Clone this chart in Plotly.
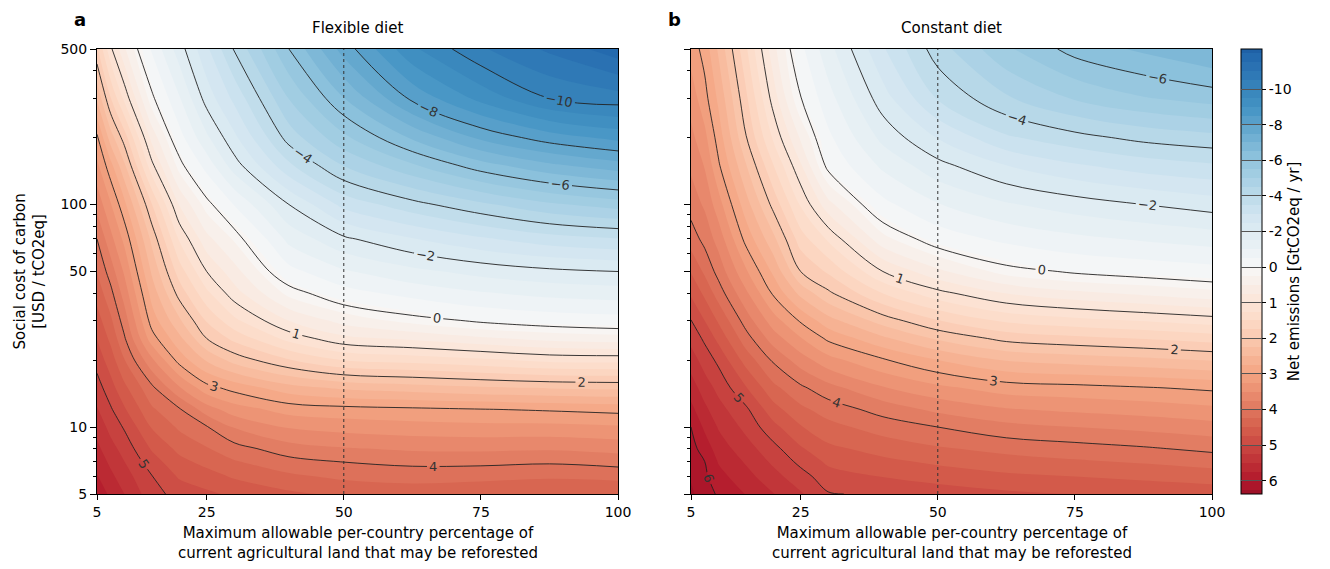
import numpy as np
import plotly.graph_objects as go

# ---------------- data ----------------
# columns: maximum allowable per-country percentage of agricultural land reforested
x_pct = [5, 7.5, 10, 15, 20, 25, 30, 40, 50, 62.5, 75, 87.5, 100]
# rows: social cost of carbon [USD / tCO2eq]
y_scc = [5, 6, 7, 8, 10, 12, 15, 20, 25, 30, 40, 50, 70, 100, 150, 200, 300, 500]

# net emissions [GtCO2eq / yr]; one row per y_scc value
net_flexible = [
    [5.9, 5.7, 5.5, 5.1, 4.9, 4.8, 4.7, 4.55, 4.45, 4.4, 4.45, 4.5, 4.5],
    [5.77, 5.56, 5.36, 5.01, 4.72, 4.6, 4.47, 4.3, 4.2, 4.15, 4.17, 4.21, 4.17],
    [5.66, 5.44, 5.25, 4.86, 4.57, 4.42, 4.27, 4.08, 3.99, 3.93, 3.93, 3.96, 3.9],
    [5.56, 5.34, 5.15, 4.72, 4.43, 4.27, 4.1, 3.86, 3.77, 3.71, 3.7, 3.72, 3.66],
    [5.41, 5.17, 4.97, 4.48, 4.21, 4.02, 3.73, 3.47, 3.4, 3.35, 3.32, 3.32, 3.28],
    [5.27, 5.03, 4.78, 4.29, 4.03, 3.62, 3.37, 3.15, 3.09, 3.05, 3.01, 2.97, 2.92],
    [5.11, 4.85, 4.56, 4.06, 3.53, 3.09, 2.91, 2.6, 2.45, 2.37, 2.29, 2.23, 2.2],
    [4.9, 4.62, 4.26, 3.55, 2.9, 2.47, 2.15, 1.77, 1.49, 1.4, 1.3, 1.18, 1.16],
    [4.74, 4.44, 4.03, 3.11, 2.57, 2.0, 1.68, 1.16, 0.82, 0.7, 0.55, 0.42, 0.36],
    [4.61, 4.3, 3.88, 2.89, 2.3, 1.73, 1.32, 0.75, 0.41, 0.17, -0.05, -0.19, -0.28],
    [4.4, 4.07, 3.64, 2.65, 1.9, 1.31, 0.86, 0.17, -0.3, -0.69, -0.96, -1.15, -1.25],
    [4.24, 3.88, 3.46, 2.46, 1.63, 1.0, 0.6, -0.33, -0.94, -1.36, -1.67, -1.88, -2.0],
    [4.0, 3.58, 3.18, 2.18, 1.22, 0.58, 0.22, -1.15, -1.9, -2.47, -2.92, -3.28, -3.47],
    [3.67, 3.27, 2.82, 1.76, 0.74, 0.14, -0.52, -2.0, -3.16, -3.82, -4.39, -4.91, -5.23],
    [3.31, 2.83, 2.29, 1.07, 0.14, -0.7, -1.76, -3.4, -4.52, -5.43, -6.29, -6.9, -7.3],
    [3.05, 2.37, 1.88, 0.66, -0.3, -1.4, -2.38, -4.22, -5.38, -6.58, -7.62, -8.26, -8.65],
    [2.46, 1.76, 1.18, 0.1, -0.95, -2.21, -3.12, -5.02, -6.48, -8.12, -9.16, -10.0, -10.27],
    [1.8, 1.05, 0.54, -0.59, -1.76, -2.9, -4.04, -6.0, -7.72, -9.4, -10.43, -11.1, -11.8],
]

net_constant = [
    [6.3, 6.1, 5.97, 5.74, 5.51, 5.28, 5.02, 4.95, 4.88, 4.8, 4.75, 4.7, 4.65],
    [6.22, 6.05, 5.84, 5.59, 5.34, 5.1, 4.86, 4.74, 4.65, 4.55, 4.5, 4.44, 4.38],
    [6.15, 6.0, 5.73, 5.47, 5.2, 4.93, 4.7, 4.56, 4.45, 4.35, 4.28, 4.22, 4.14],
    [6.09, 5.89, 5.63, 5.36, 5.08, 4.78, 4.56, 4.4, 4.28, 4.17, 4.1, 4.03, 3.94],
    [6.0, 5.7, 5.48, 5.18, 4.83, 4.52, 4.33, 4.14, 4.0, 3.83, 3.75, 3.68, 3.6],
    [5.82, 5.56, 5.34, 5.05, 4.6, 4.31, 4.14, 3.9, 3.69, 3.52, 3.45, 3.39, 3.31],
    [5.63, 5.37, 5.18, 4.77, 4.32, 4.05, 3.84, 3.52, 3.31, 3.13, 3.08, 3.02, 2.95],
    [5.37, 5.14, 4.94, 4.4, 3.96, 3.62, 3.34, 3.03, 2.75, 2.48, 2.39, 2.32, 2.23],
    [5.17, 4.95, 4.68, 4.11, 3.63, 3.27, 2.95, 2.55, 2.21, 1.92, 1.82, 1.74, 1.64],
    [5.01, 4.75, 4.47, 3.89, 3.37, 2.97, 2.6, 2.14, 1.77, 1.46, 1.34, 1.24, 1.13],
    [4.71, 4.44, 4.13, 3.55, 2.96, 2.42, 2.05, 1.49, 1.08, 0.74, 0.56, 0.44, 0.32],
    [4.48, 4.2, 3.91, 3.29, 2.7, 2.0, 1.71, 1.0, 0.56, 0.15, -0.05, -0.17, -0.3],
    [4.13, 3.92, 3.65, 2.92, 2.32, 1.62, 1.21, 0.33, -0.21, -0.63, -0.88, -1.06, -1.23],
    [3.89, 3.71, 3.36, 2.61, 1.92, 1.22, 0.59, -0.36, -0.97, -1.44, -1.75, -2.0, -2.23],
    [3.7, 3.48, 3.04, 2.27, 1.51, 0.78, -0.1, -1.11, -1.84, -2.5, -2.94, -3.25, -3.44],
    [3.57, 3.32, 2.89, 2.02, 1.21, 0.46, -0.39, -1.65, -2.53, -3.42, -3.83, -4.15, -4.34],
    [3.39, 3.09, 2.7, 1.81, 0.89, 0.02, -0.8, -2.28, -3.54, -4.43, -5.05, -5.46, -5.71],
    [3.15, 2.9, 2.46, 1.55, 0.59, -0.37, -1.31, -2.94, -4.27, -5.41, -6.2, -6.6, -7.0],
]

panel_titles = ["Flexible diet", "Constant diet"]
panel_letters = ["a", "b"]
x_ticks = [5, 25, 50, 75, 100]
y_ticks = [5, 10, 50, 100, 500]
y_minor = [6, 7, 8, 9, 20, 30, 40, 60, 70, 80, 90, 200, 300, 400]
cbar_labels = [6, 5, 4, 3, 2, 1, 0, -2, -4, -6, -8, -10]
threshold_pct = 50

FONT = "DejaVu Sans"

# ---------------- colour handling ----------------
RDBU = ['#67001f', '#b2182b', '#d6604d', '#f4a582', '#fddbc7', '#f7f7f7',
        '#d1e5f0', '#92c5de', '#4393c3', '#2166ac', '#053061']


def hex2rgb(h):
    return [int(h[i:i + 2], 16) for i in (1, 3, 5)]


RDBU_RGB = np.array([hex2rgb(c) for c in RDBU], dtype=float)


def rdbu(p):
    p = min(max(p, 0.0), 1.0)
    pos = p * 10
    i = min(int(pos), 9)
    f = pos - i
    c = RDBU_RGB[i] * (1 - f) + RDBU_RGB[i + 1] * f
    return "rgb(%d,%d,%d)" % tuple(np.round(c).astype(int))


def to_scale(z):
    """Piecewise colour-bar coordinate: positive values 1 unit/tick, negatives 2 units/tick,
    flipped so that the largest emissions sit at the bottom of the colour bar."""
    z = np.asarray(z, dtype=float)
    t = np.where(z >= 0, z, z / 2.0)
    return -t


c_start, c_end, c_size = -6.25, 6.0, 0.25
dom_lo, dom_hi = c_start - c_size / 2, c_end + c_size / 2
colorscale = []
for s in np.linspace(0, 1, 61):
    u = dom_lo + s * (dom_hi - dom_lo)
    colorscale.append([float(s), rdbu((u + 7.5) / 15.0)])

cb_tickvals = [float(v) for v in to_scale(cbar_labels)]
cb_ticktext = [str(v) for v in cbar_labels]

# ---------------- figure ----------------
W, H = 1330, 569
L, R, T, B = 97, 118, 49, 75
pw = W - L - R
ph = H - T - B
gap_frac = (691 - 618) / pw
half = (1 - gap_frac) / 2
domains = [[0, half], [1 - half, 1]]
cb_x0 = (1241 - L) / pw
cb_thick = 21

fig = go.Figure()
datasets = [net_flexible, net_constant]
for k, zdata in enumerate(datasets):
    xa = "x" if k == 0 else "x2"
    ya = "y" if k == 0 else "y2"
    fig.add_trace(go.Contour(
        x=x_pct, y=y_scc, z=to_scale(zdata).tolist(),
        xaxis=xa, yaxis=ya,
        autocontour=False,
        contours=dict(start=c_start, end=c_end, size=c_size,
                      coloring="fill", showlines=False),
        line=dict(width=0, smoothing=1),
        colorscale=colorscale,
        showscale=(k == 1),
        colorbar=dict(
            x=cb_x0, xanchor="left", xpad=0, ypad=0,
            y=0.5, yanchor="middle", len=1, lenmode="fraction",
            thickness=cb_thick, thicknessmode="pixels",
            outlinecolor="black", outlinewidth=1,
            tickmode="array", tickvals=cb_tickvals, ticktext=cb_ticktext,
            ticks="outside", ticklen=4, tickcolor="black",
            tickfont=dict(family=FONT, size=14, color="black"),
            title=dict(text="Net emissions [GtCO2eq / yr]", side="right",
                       font=dict(family=FONT, size=15, color="black")),
        ),
        hoverinfo="skip",
    ))
    # contour lines: positive levels every 1, negative levels every 2
    for (s0, s1, ds) in [(0, 6, 1), (-12, -2, 2)]:
        fig.add_trace(go.Contour(
            x=x_pct, y=y_scc, z=zdata,
            xaxis=xa, yaxis=ya,
            autocontour=False,
            contours=dict(start=s0, end=s1, size=ds, coloring="none",
                          showlabels=True,
                          labelfont=dict(family=FONT, size=13, color="#333333")),
            line=dict(color="#222222", width=0.9, smoothing=1),
            showscale=False, hoverinfo="skip",
        ))

# transparent overlay colour bar that only draws the contour-level lines across the bar
fig.add_trace(go.Scatter(
    x=[None], y=[None], mode="markers", hoverinfo="skip",
    marker=dict(color=[0.0], cmin=dom_lo, cmax=dom_hi,
                colorscale=[[0, "rgba(0,0,0,0)"], [1, "rgba(0,0,0,0)"]],
                showscale=True,
                colorbar=dict(
                    x=cb_x0, xanchor="left", xpad=0, ypad=0,
                    y=0.5, yanchor="middle", len=1, lenmode="fraction",
                    thickness=cb_thick, thicknessmode="pixels",
                    outlinewidth=0, bgcolor="rgba(0,0,0,0)",
                    tickmode="array", tickvals=cb_tickvals,
                    ticks="inside", ticklen=cb_thick, tickwidth=1.3,
                    tickcolor="#555555", showticklabels=False,
                )),
    showlegend=False,
))

axis_common = dict(showline=True, linecolor="black", linewidth=1, mirror=True,
                   ticks="outside", tickcolor="black", showgrid=False, zeroline=False,
                   tickfont=dict(family=FONT, size=14, color="black"))

for k in range(2):
    sx = "" if k == 0 else "2"
    fig.update_layout(**{
        "xaxis" + sx: dict(domain=domains[k], range=[5, 100], tickmode="array",
                           tickvals=x_ticks, ticklen=5, anchor="y" + sx, **axis_common),
        "yaxis" + sx: dict(type="log", range=[np.log10(5), np.log10(500)],
                           tickmode="array", tickvals=y_ticks, ticklen=6,
                           showticklabels=(k == 0), anchor="x" + sx,
                           minor=dict(tickmode="array", tickvals=y_minor, ticklen=3.5,
                                      ticks="outside", tickcolor="black", showgrid=False),
                           **axis_common),
    })
    fig.add_shape(type="line", xref="x" + sx, yref=("y" + sx) + " domain",
                  x0=threshold_pct, x1=threshold_pct, y0=0, y1=1,
                  line=dict(color="#333333", width=1, dash="dot"))
    cx = (domains[k][0] + domains[k][1]) / 2
    fig.add_annotation(text=panel_titles[k], xref="paper", yref="paper",
                       x=cx, y=1 + 21 / ph, xanchor="center", yanchor="middle",
                       showarrow=False, font=dict(family=FONT, size=15, color="black"))
    fig.add_annotation(text="<b>%s</b>" % panel_letters[k], xref="paper", yref="paper",
                       x=domains[k][0] - 17 / pw, y=1 + 29 / ph,
                       xanchor="center", yanchor="middle",
                       showarrow=False, font=dict(family=FONT, size=18, color="black"))
    fig.add_annotation(text="Maximum allowable per-country percentage of<br>"
                            "current agricultural land that may be reforested",
                       xref="paper", yref="paper", x=cx, y=-28 / ph,
                       xanchor="center", yanchor="top", showarrow=False,
                       font=dict(family=FONT, size=15, color="black"))

fig.add_annotation(text="Social cost of carbon<br>[USD / tCO2eq]", xref="paper", yref="paper",
                   x=-(L - 29) / pw, y=0.5, xanchor="center", yanchor="middle",
                   textangle=-90, showarrow=False,
                   font=dict(family=FONT, size=15, color="black"))

fig.update_layout(width=W, height=H, margin=dict(l=L, r=R, t=T, b=B),
                  paper_bgcolor="white", plot_bgcolor="white",
                  font=dict(family=FONT, size=14, color="black"),
                  showlegend=False)

fig.write_html("out.html")
